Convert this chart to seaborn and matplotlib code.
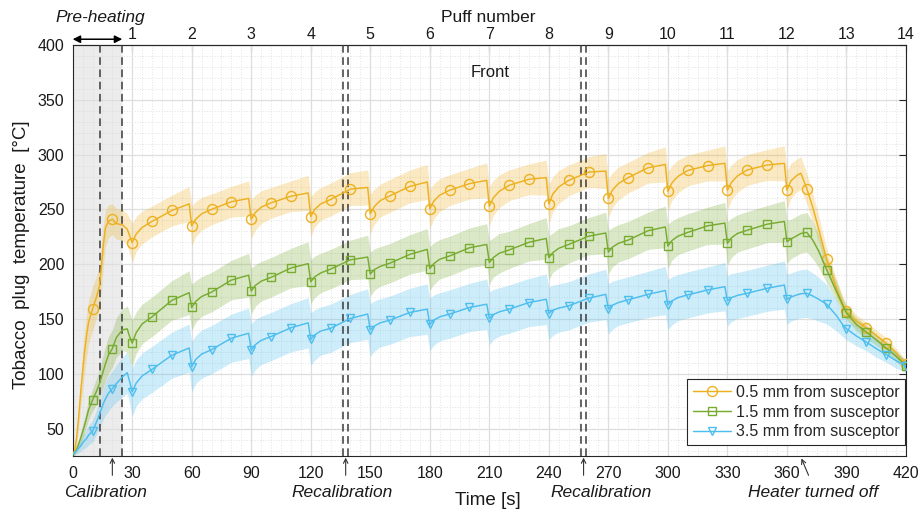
import matplotlib
matplotlib.use("Agg")
import matplotlib.pyplot as plt
from matplotlib.lines import Line2D
from matplotlib.ticker import MultipleLocator, FixedLocator
import pandas as pd
import seaborn as sns

# ---------------------------------------------------------------- data
# Sample times [s]: warm-up, eleven 30 s puff cycles, last cycle + cool-down
TIME = [0, 1, 2, 3, 4, 5, 6, 7, 8, 10, 12, 13.5, 14.5, 15.5, 16.5, 18, 20, 22, 25, 27.5, 28.7,
        30, 32, 35, 40, 50, 58.7,
        60, 62, 65, 70, 80, 88.7,
        90, 92, 95, 100, 110, 118.7,
        120, 122, 125, 130, 140, 148.7,
        150, 152, 155, 160, 170, 178.7,
        180, 182, 185, 190, 200, 208.7,
        210, 212, 215, 220, 230, 238.7,
        240, 242, 245, 250, 260, 268.7,
        270, 272, 275, 280, 290, 298.7,
        300, 302, 305, 310, 320, 328.7,
        330, 332, 335, 340, 350, 358.7,
        360, 362, 365, 367, 370, 373, 376, 380, 385, 388, 390, 395, 400, 405, 410, 415, 420]

# Mean temperature [°C] at 0.5 mm from the susceptor
T_05_MEAN = [26, 30, 42, 60, 82, 102, 120, 135, 147, 159, 170, 180, 198, 218, 233, 239, 241, 237, 236, 232, 226,
             219.5, 227.5, 233.5, 239, 249, 255,
             235, 241, 246, 250, 257, 260,
             241, 247, 252, 256, 262, 265,
             243.5, 250, 255, 259, 268.5, 270,
             246, 252.5, 258, 262.5, 271, 275,
             250.5, 257.5, 263, 267.5, 273.5, 276.5,
             253, 260.5, 266.5, 272, 277.5, 279,
             255, 264, 270.5, 276.5, 284, 285,
             260, 267.5, 273.5, 279, 288, 291,
             266.5, 274, 280, 285.5, 290, 292,
             267.5, 274.5, 280.5, 286, 290.5, 292,
             267.5, 276, 281, 283, 269, 252, 232, 204.5, 178, 164, 157, 148, 142, 135, 128, 119, 108.5]
T_05_SD = [1, 3, 6, 10, 14, 17, 19, 20, 20, 20, 19, 20, 20, 19, 17, 15, 14, 14, 14, 14, 16,
           18, 16, 15, 14, 14, 16,
           18, 16, 15, 14, 14, 16,
           18, 16, 15, 14, 14, 16,
           18, 16, 15, 15, 15, 16,
           18, 16, 15, 15, 15, 16,
           18, 16, 15, 14, 14, 16,
           18, 16, 15, 14, 14, 16,
           18, 16, 15, 14, 14, 16,
           18, 16, 15, 14, 14, 16,
           18, 16, 15, 14, 14, 16,
           18, 16, 15, 14, 14, 16,
           18, 16, 15, 15, 14, 13, 12, 10, 8, 7, 6, 6, 5, 5, 5, 4, 4]

# Mean temperature [°C] at 1.5 mm from the susceptor
T_15_MEAN = [26, 28, 31, 36, 41, 47, 53, 60, 67, 76, 84, 91, 97, 103, 109, 117, 123, 133, 140, 141, 134,
             128, 137.5, 145.5, 152, 167, 174,
             160.5, 166, 170.5, 174.5, 185.5, 190,
             175.5, 180.5, 184.5, 188, 196.5, 200.5,
             184, 188.5, 192, 195.5, 204, 206.5,
             191, 195, 198, 201, 209, 213.5,
             196, 200.5, 204.5, 207.5, 215, 218,
             201.5, 206, 210, 213, 220, 223.5,
             206, 210.5, 214.5, 218, 225.5, 228.5,
             211, 215.5, 219, 222, 230.5, 234,
             216.5, 221.5, 225.5, 229, 235, 237.5,
             219, 224, 228, 231, 236.5, 239,
             220.5, 223, 226, 228, 229, 222, 212, 195, 175, 163, 155.5, 145, 138, 131, 123.5, 116, 107.5]
T_15_SD = [1, 2, 3, 4, 5, 6, 7, 8, 9, 10, 12, 13, 14, 15, 16, 17, 17, 18, 19, 21, 22,
           21, 19, 18, 18, 18, 20,
           21, 19, 18, 18, 18, 20,
           21, 19, 18, 18, 18, 20,
           20, 19, 18, 18, 18, 20,
           20, 19, 18, 18, 18, 19,
           20, 19, 18, 18, 18, 19,
           20, 18, 18, 17, 17, 19,
           20, 18, 18, 17, 17, 19,
           20, 18, 17, 17, 17, 19,
           20, 18, 17, 17, 17, 19,
           20, 18, 17, 17, 17, 19,
           20, 18, 18, 18, 18, 17, 15, 12, 9, 7, 6, 6, 6, 5, 5, 5, 4]

# Mean temperature [°C] at 3.5 mm from the susceptor
T_35_MEAN = [26, 28, 30, 32, 34, 37, 39, 41, 44, 47.5, 56, 63, 68, 73, 77, 82, 86.5, 91, 97, 101, 93,
             83.5, 91.5, 98, 104, 117, 123.5,
             106.5, 113, 118, 122, 132.5, 137,
             121.5, 126.5, 130.5, 134, 142, 146.5,
             131.5, 135.5, 139, 141.5, 150.5, 154.5,
             140, 143.5, 146.5, 149, 156, 159,
             145, 149, 152, 154.5, 160.5, 163.5,
             150.5, 154, 156.5, 159, 165, 168,
             155, 158, 160, 162, 169, 172.5,
             159, 162.5, 165, 167.5, 172.5, 176,
             163, 166.5, 169.5, 172, 176.5, 179.5,
             166.5, 169.5, 171.5, 173.5, 178, 181,
             168, 170, 172, 173, 173.5, 171, 168, 163.5, 153, 145, 141, 134.5, 129, 123, 117.5, 112, 107]
T_35_SD = [1, 2, 3, 4, 5, 6, 7, 8, 9, 10, 11, 12, 13, 14, 15, 16, 16, 17, 18, 19, 20,
           22, 21, 21, 21, 21, 22,
           23, 22, 22, 22, 22, 23,
           24, 23, 22, 22, 22, 23,
           24, 23, 22, 22, 22, 23,
           24, 23, 22, 22, 22, 23,
           24, 23, 22, 22, 22, 23,
           24, 23, 22, 22, 22, 23,
           24, 23, 22, 22, 22, 23,
           23, 22, 21, 21, 21, 22,
           23, 22, 21, 21, 21, 22,
           23, 22, 21, 21, 21, 22,
           23, 22, 22, 22, 22, 21, 20, 18, 14, 11, 10, 9, 8, 8, 7, 7, 6]

SERIES_LABELS = ["0.5 mm from susceptor", "1.5 mm from susceptor", "3.5 mm from susceptor"]
SERIES_COLORS = ["#EDB120", "#77AC30", "#4DBEEE"]
SERIES_MARKERS = ["o", "s", "v"]

X_TICKS = [0, 30, 60, 90, 120, 150, 180, 210, 240, 270, 300, 330, 360, 390, 420]
Y_TICKS = [50, 100, 150, 200, 250, 300, 350, 400]
PUFF_TIMES = [30, 60, 90, 120, 150, 180, 210, 240, 270, 300, 330, 360, 390, 420]
PUFF_LABELS = ["1", "2", "3", "4", "5", "6", "7", "8", "9", "10", "11", "12", "13", "14"]

PREHEAT_END = 25.0
CALIBRATION_LINES = [14.0, 25.0]
RECALIBRATION_LINES = [136.3, 138.9, 256.2, 258.8]
EVENT_ARROWS = [20.0, 137.6, 257.5]
EVENT_LABELS = [("Calibration", 16.3), ("Recalibration", 136.0),
                ("Recalibration", 266.2), ("Heater turned off", 373.2)]

# long-form table of all three measurement positions
frames = []
for label, mean, sd in zip(SERIES_LABELS, [T_05_MEAN, T_15_MEAN, T_35_MEAN],
                           [T_05_SD, T_15_SD, T_35_SD]):
    frames.append(pd.DataFrame({"time": TIME, "temp": mean, "sd": sd, "position": label}))
df = pd.concat(frames, ignore_index=True)

# ---------------------------------------------------------------- style
sns.set_theme(style="white")
plt.rcParams["font.family"] = ["Liberation Sans", "DejaVu Sans"]
plt.rcParams["axes.unicode_minus"] = False
INK = "#262626"

fig = plt.figure(figsize=(9.21, 5.17), dpi=100)
ax = fig.add_axes([0.0789, 0.118, 0.9048, 0.795])
ax.set_xlim(0, 420)
ax.set_ylim(25, 400)

# pre-heating zone
ax.axvspan(0, PREHEAT_END, color="#ececec", zorder=0, lw=0)

# grids
ax.set_axisbelow(True)
ax.xaxis.set_major_locator(FixedLocator(X_TICKS))
ax.yaxis.set_major_locator(FixedLocator(Y_TICKS))
ax.xaxis.set_minor_locator(MultipleLocator(5))
ax.yaxis.set_minor_locator(MultipleLocator(10))
ax.grid(which="major", color="#dedede", lw=0.9, ls="-")
ax.grid(which="minor", color="#d8d8d8", lw=0.6, ls=(0, (1, 2.2)))

# bands and mean lines
mark_idx = [i for i, t in enumerate(TIME) if t > 0 and float(t) % 10 == 0]
for label, color in zip(SERIES_LABELS, SERIES_COLORS):
    sub = df[df["position"] == label]
    ax.fill_between(sub["time"], sub["temp"] - sub["sd"], sub["temp"] + sub["sd"],
                    color=color, alpha=0.27, lw=0, zorder=2)
for label, color, marker in zip(SERIES_LABELS, SERIES_COLORS, SERIES_MARKERS):
    sub = df[df["position"] == label]
    ms = 7.2 if marker == "o" else 6.0
    sns.lineplot(data=sub, x="time", y="temp", ax=ax, estimator=None, errorbar=None,
                 sort=False, color=color, lw=1.05, marker=marker, markevery=mark_idx,
                 markersize=ms, markerfacecolor="none", markeredgecolor=color,
                 markeredgewidth=1.0, zorder=4)

# calibration markers
for x in CALIBRATION_LINES + RECALIBRATION_LINES:
    ax.axvline(x, color="#3a3a3a", lw=1.1, ls=(0, (5, 3)), zorder=3)

# axes frame and ticks
for sp in ax.spines.values():
    sp.set_color(INK)
    sp.set_linewidth(0.8)
ax.tick_params(which="major", direction="in", length=5, width=0.8, color=INK,
               labelsize=11.5, labelcolor="#1a1a1a", right=True, top=False)
ax.tick_params(axis="x", which="major", pad=7)
ax.tick_params(axis="y", which="major", pad=6)
ax.tick_params(which="minor", length=0)
ax.set_xlabel("")
ax.set_ylabel("")

top = ax.secondary_xaxis("top")
top.set_xticks(PUFF_TIMES, labels=PUFF_LABELS)
top.tick_params(direction="in", length=5, width=0.8, color=INK, labelsize=11.5,
                labelcolor="#1a1a1a", pad=2)
top.spines["top"].set_color(INK)
top.spines["top"].set_linewidth(0.8)

xfrac = ax.get_xaxis_transform()

# texts
ax.text(209.3, 1.068, "Puff number", transform=xfrac, ha="center", va="center",
        fontsize=12.5, color="#1a1a1a")
ax.text(13.8, 1.068, "Pre-heating", transform=xfrac, ha="center", va="center",
        fontsize=12.5, style="italic", color="#1a1a1a")
ax.annotate("", xy=(0, 1.014), xytext=(PREHEAT_END, 1.014), xycoords=xfrac, textcoords=xfrac,
            arrowprops=dict(arrowstyle="<|-|>", color="black", lw=1.1, shrinkA=0, shrinkB=0,
                            mutation_scale=11), annotation_clip=False)
ax.text(210.5, 374.5, "Front", ha="center", va="center", fontsize=12, color="#1a1a1a")

for x in EVENT_ARROWS:
    ax.annotate("", xy=(x, -0.004), xytext=(x, -0.047), xycoords=xfrac, textcoords=xfrac,
                arrowprops=dict(arrowstyle="->", color="#333333", lw=0.8, shrinkA=0, shrinkB=0,
                                mutation_scale=8), annotation_clip=False)
ax.annotate("", xy=(367.3, -0.006), xytext=(370.9, -0.047), xycoords=xfrac, textcoords=xfrac,
            arrowprops=dict(arrowstyle="->", color="#333333", lw=0.8, shrinkA=0, shrinkB=0,
                            mutation_scale=8), annotation_clip=False)
for text, x in EVENT_LABELS:
    ax.text(x, -0.09, text, transform=xfrac, ha="center", va="center", fontsize=12.5,
            style="italic", color="#1a1a1a")

ax.text(209.3, -0.108, "Time [s]", transform=xfrac, ha="center", va="center",
        fontsize=13.5, color="#1a1a1a")
ax.text(-0.061, 0.49, "Tobacco  plug  temperature  [°C]", transform=ax.transAxes,
        rotation=90, ha="center", va="center", fontsize=13.5, color="#1a1a1a")

# legend
handles = [Line2D([], [], color=c, lw=1.05, marker=m, markersize=(7.2 if m == "o" else 6.0),
                  markerfacecolor="none", markeredgecolor=c, markeredgewidth=1.0)
           for c, m in zip(SERIES_COLORS, SERIES_MARKERS)]
leg = ax.legend(handles, SERIES_LABELS, loc="lower right", bbox_to_anchor=(0.9987, 0.027),
                borderaxespad=0, fontsize=11.5, handlelength=2.4, handletextpad=0.3,
                labelspacing=0.3, borderpad=0.35, frameon=True, fancybox=False,
                edgecolor=INK, facecolor="white", framealpha=1)
leg.get_frame().set_linewidth(0.8)
leg.set_zorder(6)

fig.savefig("out.png", dpi=100)
